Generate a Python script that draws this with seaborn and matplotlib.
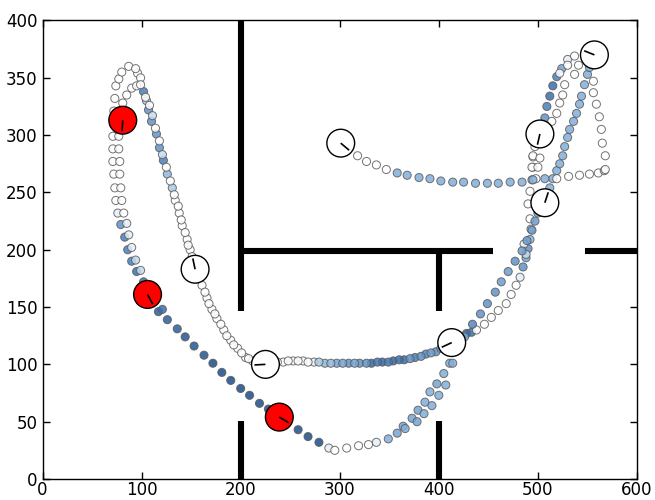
import matplotlib
matplotlib.use("Agg")
import numpy as np
import pandas as pd
import matplotlib.pyplot as plt
import seaborn as sns
from matplotlib.colors import LinearSegmentedColormap

# ---------------- data ----------------
# walls (x0, x1, y0, y1)
wall_x0 = [200, 200, 400, 548, 200, 400]
wall_x1 = [200, 455, 400, 600, 200, 400]
wall_y0 = [400, 199, 199, 199, 0, 0]
wall_y1 = [147, 199, 147, 199, 51, 51]

# loop descent (right side of the top-left loop down to the white pose)
desc_x = [96, 102, 105, 107, 110, 115, 118, 122, 126, 131, 134, 138, 141, 146, 149, 161, 166, 171, 176, 183, 190, 197, 205, 212]
desc_y = [354, 338, 330, 322, 312, 301, 289, 278, 266, 254, 243, 232, 221, 209, 200, 169, 158, 148, 140, 130, 121, 114, 106, 103]
desc_c = [0, 0.7, 0.3, 0.6, 0.6, 0.6, 0.6, 0.7, 0.4, 0.3, 0, 0, 0, 0, 0, 0, 0, 0, 0, 0, 0, 0, 0, 0]

desc2_x = [99, 104, 108, 111, 114, 118, 121, 125, 129, 133, 137, 140, 144, 147, 151, 157, 164, 168, 174, 180, 186, 193, 201, 208, 216]
desc2_y = [350, 333, 326, 317, 306, 295, 283, 272, 260, 248, 238, 226, 215, 204, 194, 176, 163, 153, 144, 135, 125, 117, 110, 105, 103]
desc2_c = [0, 0, 0, 0.2, 0, 0, 0.2, 0, 0, 0, 0, 0, 0, 0, 0, 0, 0, 0, 0, 0, 0, 0, 0, 0, 0]

# middle corridor (y ~ 100)
mid_x = [243, 253, 263, 274, 285, 297, 309, 320, 332, 343, 354, 365, 376, 387, 397]
mid_y = [102, 103, 103, 102, 101, 101, 101, 101, 101, 102, 103, 104, 106, 109, 111]
mid_c = [0, 0, 0, 0.1, 0.4, 0.5, 0.6, 0.6, 0.85, 0.85, 0.85, 0.8, 0.7, 0.65, 0.6]

mid2_x = [237, 248, 258, 268, 279, 291, 303, 315, 327, 338, 349, 360, 371, 382, 392, 402]
mid2_y = [102, 103, 103, 102, 102, 101, 101, 101, 101, 102, 102, 104, 105, 107, 110, 114]
mid2_c = [0, 0, 0, 0, 0.3, 0.4, 0.5, 0.5, 0.6, 0.75, 0.75, 0.8, 0.6, 0.6, 0.55, 0.5]

# rise to top right (white pose path)
rise_x = [428, 433, 438, 446, 453, 460, 468, 473, 478, 482, 485, 488, 490, 492, 493, 492, 490, 492, 494, 495, 495, 497, 507, 509, 512, 515, 519, 524, 530, 537]
rise_y = [127, 128, 130, 135, 141, 147, 153, 161, 169, 176, 185, 193, 201, 209, 218, 227, 240, 251, 261, 272, 281, 290, 315, 325, 334, 343, 351, 358, 366, 369]
rise_c = [0.9, 0.8, 0, 0, 0, 0, 0, 0, 0, 0.1, 0.6, 0.5, 0.6, 0.4, 0.3, 0, 0, 0, 0.3, 0, 0, 0, 0.6, 0.7, 0.8, 0.8, 0.7, 0.5, 0.1, 0]

rise2_x = [522, 527, 525, 522, 519, 514, 530, 537, 541, 495, 502, 494, 500, 498, 488, 486]
rise2_y = [354, 344, 335, 328, 319, 312, 361, 353, 361, 282, 280, 272, 272, 262, 196, 205]
rise2_c = [0, 0, 0, 0, 0, 0, 0, 0, 0, 0, 0, 0, 0, 0, 0.2, 0.1]

# red pose path: loop top, left column, bottom valley
left_x = [72, 73, 74, 77, 80, 87, 94,
          72, 71, 71, 71, 72, 73, 74, 76, 79, 83, 86, 90, 95, 102,
          117, 126, 136, 144, 153, 163, 172, 181, 190, 200, 209, 219, 228,
          258, 268, 279,
          289, 295, 307, 319, 329, 337]
left_y = [321, 332, 343, 349, 355, 360, 358,
          309, 299, 288, 277, 266, 254, 243, 232, 222, 211, 200, 190, 181, 172,
          146, 139, 131, 124, 116, 108, 101, 93, 86, 79, 73, 66, 61,
          43, 37, 32,
          27, 25, 27, 29, 30, 32]
left_c = [0, 0, 0, 0, 0, 0, 0,
          0, 0, 0, 0, 0, 0, 0, 0.1, 0.6, 0.7, 0.7, 0.7, 0.8, 0.8,
          0.9, 0.9, 0.9, 0.95, 0.95, 0.95, 1, 1, 1, 1, 1, 1, 1,
          1, 1, 1,
          0.1, 0, 0, 0, 0, 0.1]

left2_x = [81, 85, 90, 95, 99, 78, 77, 77, 78, 78, 79, 80, 82, 85, 87, 90, 94, 99, 121]
left2_y = [328, 335, 341, 343, 344, 309, 299, 288, 277, 266, 254, 243, 232, 223, 213, 202, 191, 182, 148]
left2_c = [0, 0, 0, 0, 0, 0, 0, 0, 0, 0, 0, 0, 0, 0.1, 0.1, 0.1, 0.2, 0.2, 0.8]

# rising light-blue strand from the bottom valley to the top right
up_x = [349, 358, 364, 373, 379, 386, 391, 398, 405, 411,
        418, 426, 434, 442, 449, 457, 463, 470, 477, 484,
        489, 494, 497, 500, 505, 509, 512, 515, 519, 522,
        525, 527, 530, 532, 536, 539, 542, 544, 547, 550, 552]
up_y = [35, 40, 46, 53, 60, 67, 76, 83, 92, 101,
        112, 124, 135, 144, 153, 163, 172, 181, 190, 199,
        208, 217, 225, 232, 241, 248, 254, 262, 269, 275,
        282, 290, 298, 305, 312, 319, 327, 334, 344, 353, 359]
up_c = [0.45, 0.5, 0.5, 0.5, 0.5, 0.45, 0.45, 0.5, 0.45, 0.45,
        0.45, 0.5, 0.65, 0.6, 0.6, 0.6, 0.55, 0.55, 0.6, 0.55,
        0.55, 0.55, 0.55, 0.5, 0.5, 0.5, 0.45, 0.45, 0.45, 0.45,
        0.45, 0.45, 0.45, 0.45, 0.45, 0.45, 0.45, 0.45, 0.45, 0.45, 0.45]

up2_x = [366, 378, 385, 393, 400, 407, 414]
up2_y = [44, 50, 57, 64, 73, 82, 101]
up2_c = [0.45, 0.5, 0.45, 0.45, 0.45, 0.45, 0.45]

# upper corridor (y ~ 260) and right hook
top_x = [318, 327, 337, 347,
         358, 368, 380, 391, 402, 414, 425, 437, 449, 460, 472, 484, 495, 507,
         519, 531, 542, 552, 561,
         567, 568,
         568, 565, 564, 562, 559, 556, 556]
top_y = [282, 277, 274, 270,
         267, 265, 263, 262, 260, 259, 259, 258, 258, 258, 259, 259, 261, 262,
         262, 264, 265, 266, 267,
         269, 270,
         282, 293, 305, 316, 327, 337, 347]
top_c = [0, 0, 0, 0,
         0.45, 0.45, 0.45, 0.45, 0.45, 0.45, 0.45, 0.45, 0.45, 0.45, 0.45, 0.45, 0.45, 0.45,
         0, 0, 0, 0, 0,
         0.15, 0,
         0, 0, 0, 0, 0, 0, 0]

# poses (large circles) with heading (degrees, screen space)
pose_x = [81, 106, 239, 154, 225, 413, 301, 507, 502, 557]
pose_y = [313, 161, 54, 183, 100, 119, 293, 241, 301, 370]
pose_heading = [-94, -62, -31, 102, 183, 205, -40, 72, -103, 158]
pose_kind = ["red", "red", "red", "white", "white", "white", "white", "white", "white", "white"]

# ---------------- figure ----------------
sns.set_style("white")
plt.rcParams["font.family"] = ["DejaVu Sans"]

fig = plt.figure(figsize=(6.55, 5.0), dpi=100)
ax = fig.add_axes([42.5 / 655, 21 / 500, (637 - 42.5) / 655, (479 - 20.5) / 500])
ax.set_xlim(0, 600)
ax.set_ylim(0, 400)

for x0, x1, y0, y1 in zip(wall_x0, wall_x1, wall_y0, wall_y1):
    ax.plot([x0, x1], [y0, y1], color="black", lw=4.4, solid_capstyle="butt", zorder=1)

strands = {
    "desc": (desc_x, desc_y, desc_c), "desc2": (desc2_x, desc2_y, desc2_c),
    "mid": (mid_x, mid_y, mid_c), "mid2": (mid2_x, mid2_y, mid2_c),
    "rise": (rise_x, rise_y, rise_c), "rise2": (rise2_x, rise2_y, rise2_c),
    "left": (left_x, left_y, left_c), "left2": (left2_x, left2_y, left2_c),
    "up": (up_x, up_y, up_c), "up2": (up2_x, up2_y, up2_c),
    "top": (top_x, top_y, top_c),
}
frames = []
for name, (xs, ys, cs) in strands.items():
    frames.append(pd.DataFrame({"x": xs, "y": ys, "c": cs, "strand": name}))
df = pd.concat(frames, ignore_index=True)

cmap = LinearSegmentedColormap.from_list(
    "pts", [(0, "#ffffff"), (0.45, "#82afda"), (0.7, "#4a7fba"), (1.0, "#1c4e8a")])

sns.scatterplot(data=df, x="x", y="y", hue="c", palette=cmap, hue_norm=(0, 1),
                s=34, edgecolor="#5a5a5a", linewidth=0.7, alpha=0.85,
                legend=False, ax=ax, zorder=2)

pdf = pd.DataFrame({"x": pose_x, "y": pose_y, "kind": pose_kind})
sns.scatterplot(data=pdf, x="x", y="y", hue="kind",
                palette={"red": "#ff0000", "white": "#ffffff"},
                s=400, edgecolor="black", linewidth=1.0, legend=False, ax=ax, zorder=3)

# heading lines
L = 11.0
for x, y, h in zip(pose_x, pose_y, pose_heading):
    p = ax.transData.transform((x, y))
    q = p + L * np.array([np.cos(np.radians(h)), np.sin(np.radians(h))])
    x2, y2 = ax.transData.inverted().transform(q)
    ax.plot([x, x2], [y, y2], color="black", lw=1.2, zorder=4, solid_capstyle="butt")

ax.set_xticks(range(0, 601, 100))
ax.set_yticks(range(0, 401, 50))
ax.tick_params(direction="in", length=5, width=1, top=True, right=True,
               labelsize=12, colors="black", left=True, bottom=True)
ax.tick_params(axis="x", pad=1.5)
for sp in ax.spines.values():
    sp.set_color("black")
    sp.set_linewidth(1.0)
    sp.set_visible(True)
ax.set_xlabel("")
ax.set_ylabel("")
ax.grid(False)

fig.savefig("out.png", dpi=100)
